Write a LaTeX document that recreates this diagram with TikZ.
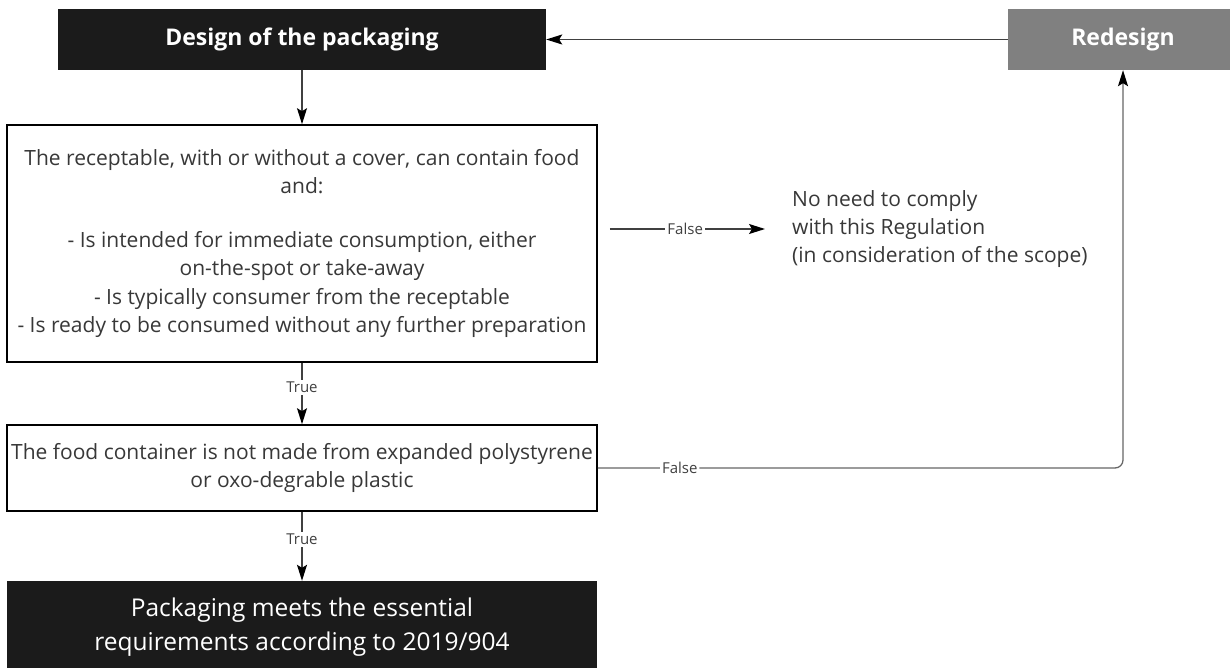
\documentclass[tikz,border=0pt]{standalone}
\usepackage{fontspec}
\setmainfont{Open Sans}
\usetikzlibrary{arrows.meta}
\definecolor{boxdark}{HTML}{1B1B1B}
\definecolor{boxgrey}{HTML}{808080}
\definecolor{inktext}{HTML}{383838}
\definecolor{wire}{HTML}{404040}
\tikzset{
  darkbox/.style={fill=boxdark, draw=none, text=white, align=center, inner sep=0pt},
  greybox/.style={fill=boxgrey, draw=none, text=white, align=center, inner sep=0pt},
  condbox/.style={draw=black, line width=1.6pt, fill=white, text=inktext, align=center, inner sep=0pt,
    font=\fontsize{21}{28.5}\selectfont},
  plaintext/.style={text=inktext, align=left, inner sep=0pt, font=\fontsize{21}{28}\selectfont},
  flow/.style={draw=wire, line width=1.3pt, -{Stealth[length=16pt,width=10pt,inset=3pt,fill=black,color=black]}},
  tag/.style={fill=white, text=wire, inner sep=2pt, font=\fontsize{15}{18}\selectfont}
}
\begin{document}
\begin{tikzpicture}[x=1pt,y=-1pt]
\useasboundingbox (0,0) rectangle (1230,668);

% boxes
\node[darkbox, minimum width=488pt, minimum height=61pt, font=\fontsize{23}{28}\selectfont\bfseries]
  (design) at (302,39.5) {Design of the packaging};
\node[greybox, minimum width=230pt, minimum height=61pt, font=\fontsize{23}{28}\selectfont\bfseries]
  (redesign) at (1123,39.5) {Redesign};
\node[condbox, minimum width=590pt, minimum height=237pt] (scope) at (302,243.5)
  {The receptable, with or without a cover, can contain food\\
   and:\\[25pt]
   - Is intended for immediate consumption, either\\
   on-the-spot or take-away\\
   - Is typically consumer from the receptable\\
   - Is ready to be consumed without any further preparation};
\node[condbox, minimum width=590pt, minimum height=86pt] (material) at (302,468)
  {The food container is not made from expanded polystyrene\\
   or oxo-degrable plastic};
\node[darkbox, minimum width=590pt, minimum height=92pt, font=\fontsize{24.5}{34}\selectfont]
  (meets) at (302,627)
  {Packaging meets the essential\\
   requirements according to 2019/904};
\node[plaintext, anchor=west] (nope) at (792,229)
  {No need to comply\\
   with this Regulation\\
   (in consideration of the scope)};

% connectors
\draw[flow] (redesign.west) -- (design.east);
\draw[flow] (design.south) -- (scope.north);
\draw[flow] (scope.south) -- node[tag, pos=0.4]{True} (material.north);
\draw[flow] (material.south) -- node[tag, pos=0.4]{True} (meets.north);
\draw[flow, shorten <=12pt, shorten >=27pt] (scope.east |- nope.west) -- node[tag, pos=0.45]{False} (nope.west);
\draw[flow, draw=wire!80, rounded corners=8pt] (material.east) -| node[tag, pos=0.078]{False} (redesign.south);
\end{tikzpicture}
\end{document}
